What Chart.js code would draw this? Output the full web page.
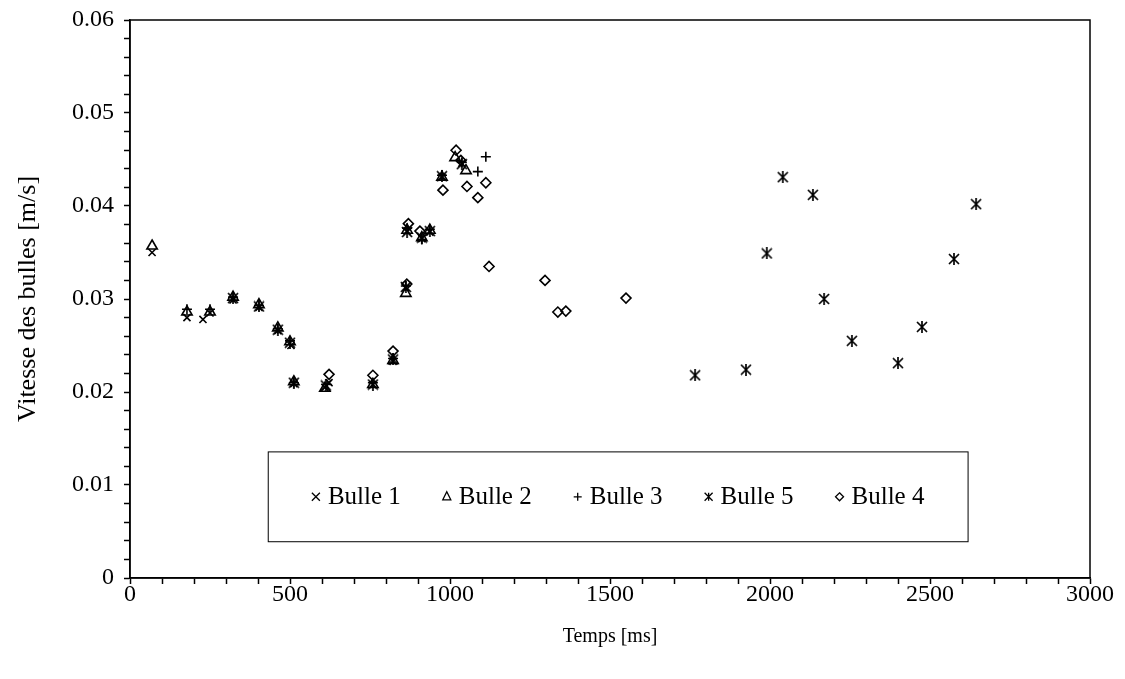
<!DOCTYPE html>
<html>
<head>
<meta charset="utf-8">
<script src="https://cdn.jsdelivr.net/npm/chart.js@4/dist/chart.umd.min.js"></script>
<style>
  body { margin: 0; background: #fff; }
  #wrap { width: 1125px; height: 679px; }
</style>
</head>
<body>
<div id="wrap"><canvas id="myChart" width="1125" height="679"></canvas></div>
<script>
// Bulle 1 (x)
const temps1 = [69, 178, 228, 250, 322, 403, 462, 503, 512, 609, 622, 759, 822, 862, 866, 912, 937, 975, 1037];
const vitesse1 = [0.0350, 0.0280, 0.0278, 0.0285, 0.0299, 0.0291, 0.0266, 0.0250, 0.0209, 0.0205, 0.0210, 0.0208, 0.0233, 0.0312, 0.0373, 0.0365, 0.0372, 0.0431, 0.0446];
// Bulle 2 (triangle)
const temps2 = [69, 178, 250, 322, 403, 462, 500, 512, 609, 759, 822, 862, 866, 912, 937, 975, 1016, 1050];
const vitesse2 = [0.0357, 0.0286, 0.0286, 0.0302, 0.0294, 0.0269, 0.0254, 0.0211, 0.0204, 0.0208, 0.0234, 0.0306, 0.0374, 0.0366, 0.0374, 0.0431, 0.0452, 0.0438];
// Bulle 3 (+)
const temps3 = [178, 250, 322, 403, 462, 500, 512, 616, 759, 822, 862, 866, 912, 937, 975, 1037, 1087, 1112];
const vitesse3 = [0.0289, 0.0289, 0.0302, 0.0293, 0.0268, 0.0255, 0.0210, 0.0208, 0.0210, 0.0236, 0.0314, 0.0376, 0.0364, 0.0375, 0.0433, 0.0447, 0.0437, 0.0453];
// Bulle 5 (asterisk)
const temps5 = [322, 403, 462, 500, 512, 612, 759, 822, 862, 866, 912, 937, 975, 1037, 1766, 1925, 1990, 2040, 2134, 2169, 2256, 2400, 2475, 2575, 2644];
const vitesse5 = [0.0301, 0.0292, 0.0267, 0.0253, 0.0210, 0.0207, 0.0208, 0.0235, 0.0313, 0.0372, 0.0366, 0.0373, 0.0432, 0.0445, 0.0218, 0.0224, 0.0349, 0.0431, 0.0412, 0.0300, 0.0255, 0.0231, 0.0270, 0.0343, 0.0402];
// Bulle 4 (losange)
const temps4 = [622, 759, 822, 865, 870, 906, 978, 1019, 1034, 1053, 1087, 1112, 1122, 1297, 1337, 1362, 1550];
const vitesse4 = [0.0219, 0.0218, 0.0244, 0.0316, 0.0381, 0.0373, 0.0417, 0.0460, 0.0449, 0.0421, 0.0409, 0.0425, 0.0335, 0.0320, 0.0286, 0.0287, 0.0301];

const labels = ['Bulle 1', 'Bulle 2', 'Bulle 3', 'Bulle 5', 'Bulle 4'];

const pts = (xs, ys) => xs.map((x, i) => ({ x: x, y: ys[i] }));

function asterisk(size) {
  const c = document.createElement('canvas');
  c.width = size + 2;
  c.height = size + 2;
  const g = c.getContext('2d');
  g.strokeStyle = '#000';
  g.lineWidth = 1.7;
  g.beginPath();
  g.moveTo(1, 1); g.lineTo(size + 1, size + 1);
  g.moveTo(size + 1, 1); g.lineTo(1, size + 1);
  g.moveTo(size / 2 + 1, 0); g.lineTo(size / 2 + 1, size + 2);
  g.stroke();
  return c;
}

const styles = ['crossRot', 'triangle', 'cross', asterisk(10), 'rectRot'];
const series = [pts(temps1, vitesse1), pts(temps2, vitesse2), pts(temps3, vitesse3), pts(temps5, vitesse5), pts(temps4, vitesse4)];

const serif = 'Liberation Serif';

// cadre + légende dans la zone du graphique
const frame = {
  id: 'frame',
  afterDraw(chart) {
    const { ctx, chartArea: a } = chart;
    ctx.save();
    ctx.strokeStyle = '#000';
    ctx.lineWidth = 1.5;
    ctx.strokeRect(a.left, a.top, a.right - a.left, a.bottom - a.top);

    const w = a.right - a.left, h = a.bottom - a.top;
    const bx = a.left + 0.144 * w, by = a.top + 0.774 * h;
    const bw = 0.729 * w, bh = 0.161 * h;
    ctx.fillStyle = '#fff';
    ctx.fillRect(bx, by, bw, bh);
    ctx.lineWidth = 1;
    ctx.strokeRect(bx, by, bw, bh);

    ctx.font = '25px "' + serif + '"';
    ctx.fillStyle = '#000';
    ctx.textBaseline = 'middle';
    const gap = 8, sp = 42, mk = 8;
    const widths = labels.map(t => ctx.measureText(t).width);
    const total = widths.reduce((s, v) => s + v + mk + gap, 0) + sp * (labels.length - 1);
    let x = bx + (bw - total) / 2;
    const cy = by + bh / 2;
    labels.forEach((t, i) => {
      const cx = x + mk / 2;
      ctx.beginPath();
      ctx.lineWidth = 1.3;
      const r = mk / 2;
      if (i === 0) {
        ctx.moveTo(cx - r, cy - r); ctx.lineTo(cx + r, cy + r);
        ctx.moveTo(cx + r, cy - r); ctx.lineTo(cx - r, cy + r);
      } else if (i === 1) {
        ctx.moveTo(cx, cy - r - 1); ctx.lineTo(cx + r, cy + r - 1); ctx.lineTo(cx - r, cy + r - 1); ctx.closePath();
      } else if (i === 2) {
        ctx.moveTo(cx - r, cy); ctx.lineTo(cx + r, cy);
        ctx.moveTo(cx, cy - r); ctx.lineTo(cx, cy + r);
      } else if (i === 3) {
        ctx.moveTo(cx - r, cy - r); ctx.lineTo(cx + r, cy + r);
        ctx.moveTo(cx + r, cy - r); ctx.lineTo(cx - r, cy + r);
        ctx.moveTo(cx, cy - r); ctx.lineTo(cx, cy + r);
      } else {
        ctx.moveTo(cx, cy - r); ctx.lineTo(cx + r, cy); ctx.lineTo(cx, cy + r); ctx.lineTo(cx - r, cy); ctx.closePath();
      }
      ctx.stroke();
      ctx.fillText(t, x + mk + gap, cy + 1);
      x += mk + gap + widths[i] + sp;
    });
    ctx.restore();
  }
};

const data = {
  datasets: series.map((d, i) => ({
    label: labels[i],
    data: d,
    pointStyle: styles[i],
    pointRadius: i === 1 ? 6 : 5,
    pointBorderWidth: 1.6,
    pointBorderColor: '#000',
    pointBackgroundColor: i === 1 || i === 4 ? 'rgba(255,255,255,0)' : '#000',
    showLine: false
  }))
};

const config = {
  type: 'scatter',
  data: data,
  options: {
    responsive: false,
    animation: false,
    layout: { padding: { top: 20, right: 35, left: 0, bottom: 0 } },
    scales: {
      x: {
        type: 'linear',
        min: 0,
        max: 3000,
        afterFit: s => { s.height = 101; },
        ticks: {
          stepSize: 100,
          autoSkip: false,
          maxRotation: 0,
          padding: -4,
          color: '#000',
          font: { family: serif, size: 24 },
          callback: v => (v % 500 === 0 ? v : '')
        },
        grid: { drawOnChartArea: false, tickLength: 6, color: '#000', tickWidth: 1.5 },
        border: { color: '#000', width: 1.5 },
        title: {
          display: true,
          text: 'Temps [ms]',
          color: '#000',
          font: { family: serif, size: 20 },
          padding: { top: 0, bottom: 30 }
        }
      },
      y: {
        min: 0,
        max: 0.06,
        afterFit: s => { s.width = 130; s.paddingTop = 0; s.paddingBottom = 0; },
        ticks: {
          stepSize: 0.002,
          autoSkip: false,
          padding: 10,
          color: '#000',
          font: { family: serif, size: 24 },
          callback: v => {
            const k = v / 0.01;
            return Math.abs(k - Math.round(k)) < 1e-6 ? (Math.round(k) / 100).toFixed(2).replace('0.00', '0') : '';
          }
        },
        grid: { drawOnChartArea: false, tickLength: 6, color: '#000', tickWidth: 1.5 },
        border: { color: '#000', width: 1.5 },
        title: {
          display: true,
          text: 'Vitesse des bulles [m/s]',
          color: '#000',
          font: { family: serif, size: 26 },
          padding: { top: 13, bottom: 0 }
        }
      }
    },
    plugins: {
      legend: { display: false },
      tooltip: { enabled: false }
    }
  },
  plugins: [frame]
};

const myChart = new Chart(
  document.getElementById('myChart'),
  config
);
</script>
</body>
</html>
